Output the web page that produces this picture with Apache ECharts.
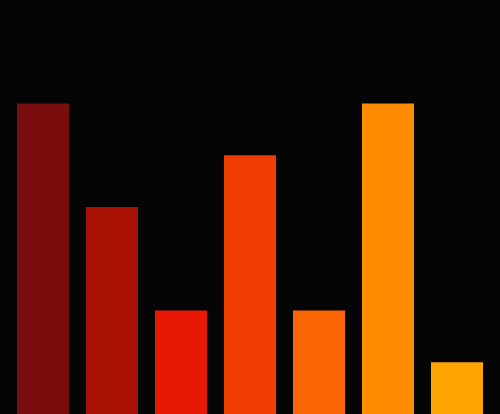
<!DOCTYPE html>
<html>
<head>
<meta charset="utf-8">
<script src="https://cdn.jsdelivr.net/npm/echarts@6/dist/echarts.min.js"></script>
<style>
  html, body { margin: 0; padding: 0; background: #050506; }
  #chart { width: 500px; height: 414px; }
</style>
</head>
<body>
<div id="chart"></div>
<script>
//Données
const categories = ['A', 'B', 'C', 'D', 'E', 'F', 'G'];
const values = [6, 4, 2, 5, 2, 6, 1];
const colors = ['#7a0d0e', '#aa1105', '#e81904', '#f13c04', '#f96404', '#fe8b00', '#ffa400'];

let chart = echarts.init(document.getElementById('chart'));

chart.setOption({
  backgroundColor: '#050506',
  animation: false,
  grid: { left: 8.5, right: 8.5, top: 0, bottom: 0 },
  xAxis: {
    type: 'category',
    data: categories,
    show: false
  },
  yAxis: {
    type: 'value',
    min: 0,
    max: 8,
    show: false
  },
  series: [{
    type: 'bar',
    barWidth: 52,
    data: values.map((v, i) => ({ value: v, itemStyle: { color: colors[i] } }))
  }]
});
</script>
</body>
</html>
